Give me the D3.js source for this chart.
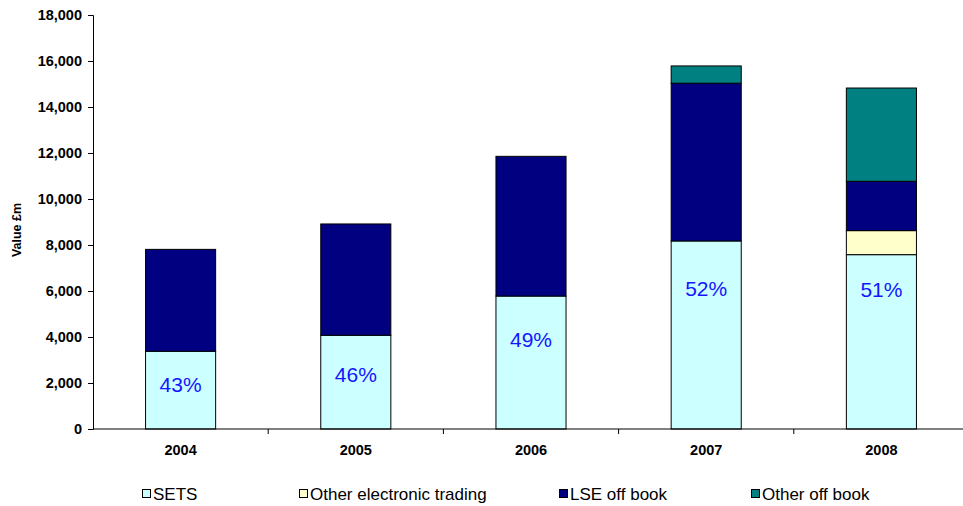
<!DOCTYPE html>
<html>
<head>
<meta charset="utf-8">
<script src="https://cdn.jsdelivr.net/npm/d3@7"></script>
<style>
    body { margin: 0; background: #fff; }
    text { font-family: "Liberation Sans", Arial, sans-serif; }
    .axis path, .axis line { stroke: #000; }
    .axis text { font-size: 14.5px; font-weight: bold; fill: #000; }
</style>
</head>
<body>
<div class="container"></div>
<script>
const YEARS = ['2004', '2005', '2006', '2007', '2008'];
const SERIES = ['SETS', 'Other electronic trading', 'LSE off book', 'Other off book'];
const COLORS = ['#CCFFFF', '#FFFFCC', '#000080', '#008080'];

const SETS = [3380, 4075, 5780, 8175, 7580];
const OTHER_ELECTRONIC = [0, 0, 0, 0, 1045];
const LSE_OFF_BOOK = [4430, 4840, 6075, 6860, 2145];
const OTHER_OFF_BOOK = [0, 0, 0, 750, 4055];

const PCT_LABELS = ['43%', '46%', '49%', '52%', '51%'];
const PCT_AT = [1950, 2380, 3900, 6120, 6075];

const Y_TICKS = d3.range(0, 18001, 2000);

const WIDTH = 963;
const HEIGHT = 506;
const LEFT = 93;
const TOP = 15;
const INNER_WIDTH = 876;
const INNER_HEIGHT = 414;

let rows = YEARS.map((y, i) => ({
    year: y,
    'SETS': SETS[i],
    'Other electronic trading': OTHER_ELECTRONIC[i],
    'LSE off book': LSE_OFF_BOOK[i],
    'Other off book': OTHER_OFF_BOOK[i]
}));

let svg = d3.select('.container').append('svg')
    .attr('width', WIDTH)
    .attr('height', HEIGHT);

let g = svg.append('g')
    .attr('transform', `translate(${LEFT}, ${TOP})`);

let xScale = d3.scaleBand()
    .domain(YEARS)
    .range([0, INNER_WIDTH])
    .paddingInner(0.6)
    .paddingOuter(0.3);

let yScale = d3.scaleLinear()
    .domain([0, 18000])
    .range([INNER_HEIGHT, 0]);

let color = d3.scaleOrdinal().domain(SERIES).range(COLORS);

let stacked = d3.stack().keys(SERIES)(rows);

//--bars--
g.selectAll('.layer').data(stacked)
    .enter().append('g')
    .attr('fill', d => color(d.key))
    .selectAll('rect').data(d => d.filter(p => p[1] - p[0] > 0))
    .enter().append('rect')
    .attr('x', p => xScale(p.data.year))
    .attr('width', xScale.bandwidth())
    .attr('y', p => yScale(p[1]))
    .attr('height', p => yScale(p[0]) - yScale(p[1]))
    .attr('stroke', '#000')
    .attr('stroke-width', 1);

//--axes--
g.append('g')
    .attr('class', 'axis')
    .call(d3.axisLeft(yScale).tickValues(Y_TICKS).tickSize(5).tickPadding(6)
        .tickFormat(d3.format(',')));

let xAxis = g.append('g')
    .attr('class', 'axis')
    .attr('transform', `translate(0, ${INNER_HEIGHT})`)
    .call(d3.axisBottom(xScale).tickSize(0).tickPadding(16));

// tick marks sit between categories
let step = xScale.step();
xAxis.selectAll('.sep').data(YEARS.slice(1))
    .enter().append('line')
    .attr('x1', d => xScale(d) - step * 0.3)
    .attr('x2', d => xScale(d) - step * 0.3)
    .attr('y1', 0).attr('y2', 5)
    .attr('stroke', '#000');
xAxis.select('.domain').attr('d', `M0,0H${INNER_WIDTH}`);

//--percent labels--
g.selectAll('.pct').data(PCT_LABELS)
    .enter().append('text')
    .attr('x', (d, i) => xScale(YEARS[i]) + xScale.bandwidth() / 2)
    .attr('y', (d, i) => yScale(PCT_AT[i]))
    .attr('dy', '0.35em')
    .attr('text-anchor', 'middle')
    .attr('font-size', 21)
    .attr('fill', '#1515FF')
    .text(d => d);

svg.append('text')
    .attr('text-anchor', 'middle')
    .attr('transform', `translate(21, 230)rotate(-90)`)
    .attr('font-size', 12.5)
    .attr('font-weight', 'bold')
    .text('Value £m');

//--legend--
const LEGEND_X = [142, 299, 559, 751];
let legend = svg.selectAll('.legend').data(SERIES)
    .enter().append('g')
    .attr('transform', (d, i) => `translate(${LEGEND_X[i]}, 494)`);

legend.append('rect')
    .attr('x', 0.5).attr('y', -4.5)
    .attr('width', 8).attr('height', 8)
    .attr('fill', d => color(d))
    .attr('stroke', '#000');

legend.append('text')
    .attr('x', 11)
    .attr('dy', '0.35em')
    .attr('font-size', 17)
    .text(d => d);
</script>
</body>
</html>
